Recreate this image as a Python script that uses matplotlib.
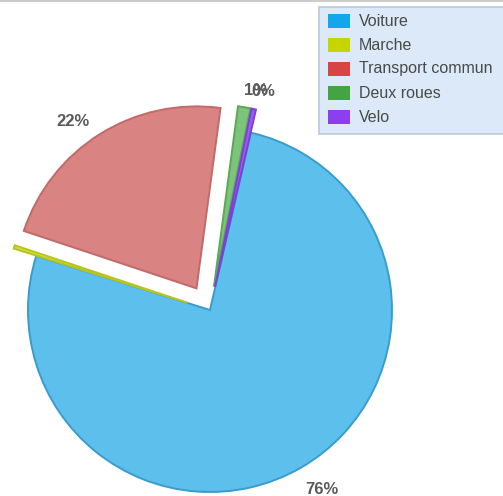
import matplotlib
matplotlib.use("Agg")
import matplotlib.pyplot as plt
from matplotlib.patches import Rectangle

plt.rcParams['font.family'] = ['Liberation Sans', 'DejaVu Sans']

# Mode de transport
categories = ["Voiture", "Marche", "Transport commun", "Deux roues", "Velo"]
shares = [76.2, 0.3, 22.0, 1.1, 0.4]

legend_colors = ["#12a6ea", "#c6d400", "#d84444", "#44a444", "#8b3ff0"]
face_colors = ["#5cbfec", "#d2de3a", "#d98383", "#7cc47a", "#9c5cf0"]
edge_colors = ["#3a9ccd", "#b8c420", "#c26a6a", "#5aa858", "#7d3fd8"]
explode_frac = [0.0, 0.13, 0.14, 0.13, 0.13]
# small label nudges (pixels, x right / y up)
label_nudge = [(9, 0), (0, 0), (-14, -9), (8, -8), (4, -7)]

W, H = 503, 496
R = 182
fig = plt.figure(figsize=(W / 100, H / 100), dpi=100)
ax = fig.add_axes([0, 0, 1, 1])

wedges, texts, autotexts = ax.pie(
    shares,
    explode=[e * R for e in explode_frac],
    colors=face_colors,
    startangle=77,
    counterclock=False,
    center=(210, H - 310),
    radius=R,
    autopct=lambda p: f"{p:.0f}%",
    pctdistance=1.14,
    wedgeprops=dict(linewidth=1.4),
    textprops=dict(color="#5a5a5a", fontsize=12, fontweight="bold"),
    frame=True,
)
ax.set_xlim(0, W)
ax.set_ylim(0, H)
ax.set_aspect('equal')
ax.axis('off')
for w, ec in zip(wedges, edge_colors):
    w.set_edgecolor(ec)
for t, (dx, dy) in zip(autotexts, label_nudge):
    x, y = t.get_position()
    t.set_position((x + dx, y + dy))
# the Marche label falls outside the canvas
autotexts[1].set_visible(False)

# top rule
fig.add_artist(plt.Line2D([0, 1], [0.998, 0.998], color="#cccccc", lw=1.5,
                          transform=fig.transFigure))

# legend box
lx0, ly0, lx1, ly1 = 319, 7, 506, 134
fig.add_artist(Rectangle((lx0 / W, 1 - ly1 / H), (lx1 - lx0) / W, (ly1 - ly0) / H,
                         transform=fig.transFigure, facecolor="#dce9f8",
                         edgecolor="#b8c8dc", linewidth=1.2))
row_y = [21, 45, 69, 93, 117]
for name, col, yy in zip(categories, legend_colors, row_y):
    fig.add_artist(Rectangle((328 / W, 1 - (yy + 7) / H), 22 / W, 14 / H,
                             transform=fig.transFigure, facecolor=col,
                             edgecolor="none"))
    fig.text(359 / W, 1 - yy / H, name, fontsize=11.5, color="#4a4a4a",
             va="center", ha="left")

fig.savefig("out.png", dpi=100, facecolor="white")
